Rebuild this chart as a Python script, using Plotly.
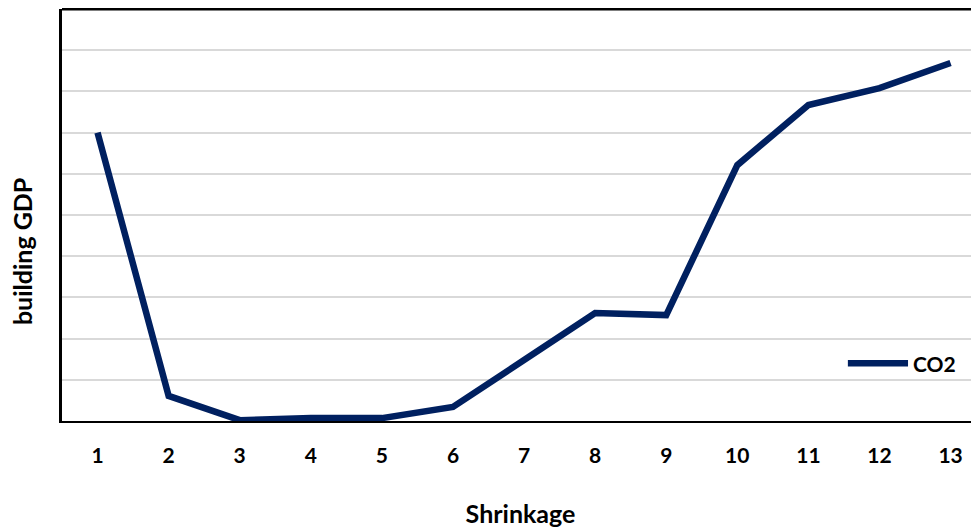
import plotly.graph_objects as go

categories = [str(i) for i in range(1, 14)]
co2 = [7.0, 0.61, 0.02, 0.07, 0.07, 0.34, 1.48, 2.62, 2.57, 6.21, 7.67, 8.08, 8.69]
series_name = "CO2"
x_title = "Shrinkage"
y_title = "building GDP"

FONT = "Lato"
NAVY = "#002060"

fig = go.Figure()
fig.add_trace(go.Scatter(
    x=list(range(1, 14)), y=co2, mode="lines", name=series_name, showlegend=False,
    line=dict(color=NAVY, width=6.5, shape="linear"),
))

# the page body has an 8px margin, so the figure is sized to fill the rest of the window
fig.update_layout(
    width=971, height=522,
    margin=dict(l=54, r=0, t=1, b=109),
    paper_bgcolor="white", plot_bgcolor="white",
    font=dict(family=FONT, size=21, color="black"),
    xaxis=dict(
        range=[0.5, 13.4], tickmode="array", tickvals=list(range(1, 14)), ticktext=categories,
        showgrid=False, zeroline=False, showline=True, linecolor="black", linewidth=2,
        ticks="", ticklabelstandoff=15,
        tickfont=dict(family=FONT, size=21, color="black", weight="bold"),
        title=dict(text=x_title, standoff=39, font=dict(family=FONT, size=25, color="black", weight="bold")),
        fixedrange=True,
    ),
    yaxis=dict(
        range=[0, 10], dtick=1, showticklabels=False, showgrid=True, gridcolor="#d9d9d9", gridwidth=2,
        zeroline=False, showline=True, linecolor="black", linewidth=3, ticks="",
        fixedrange=True,
    ),
)

# y-axis title (placed like the reference, slightly below the plot's middle)
fig.add_annotation(xref="paper", yref="paper", x=0, y=0.41, xanchor="center", yanchor="middle",
                   xshift=-40, textangle=-90, text=y_title, showarrow=False,
                   font=dict(family=FONT, size=25, color="black", weight="bold"))

# top border of the plot frame
fig.add_shape(type="line", xref="paper", yref="paper", x0=0, x1=1, y0=1, y1=1,
              line=dict(color="black", width=3))

# legend drawn inside the plot area (line sample + label)
fig.add_shape(type="line", xref="paper", yref="paper", x0=0.857, x1=0.9226, y0=0.14, y1=0.14,
              line=dict(color=NAVY, width=6.5))
fig.add_annotation(xref="paper", yref="paper", x=0.926, y=0.14, xanchor="left", yanchor="middle",
                   text=series_name, showarrow=False,
                   font=dict(family=FONT, size=21, color="black", weight="bold"))

fig.write_html("out.html")
